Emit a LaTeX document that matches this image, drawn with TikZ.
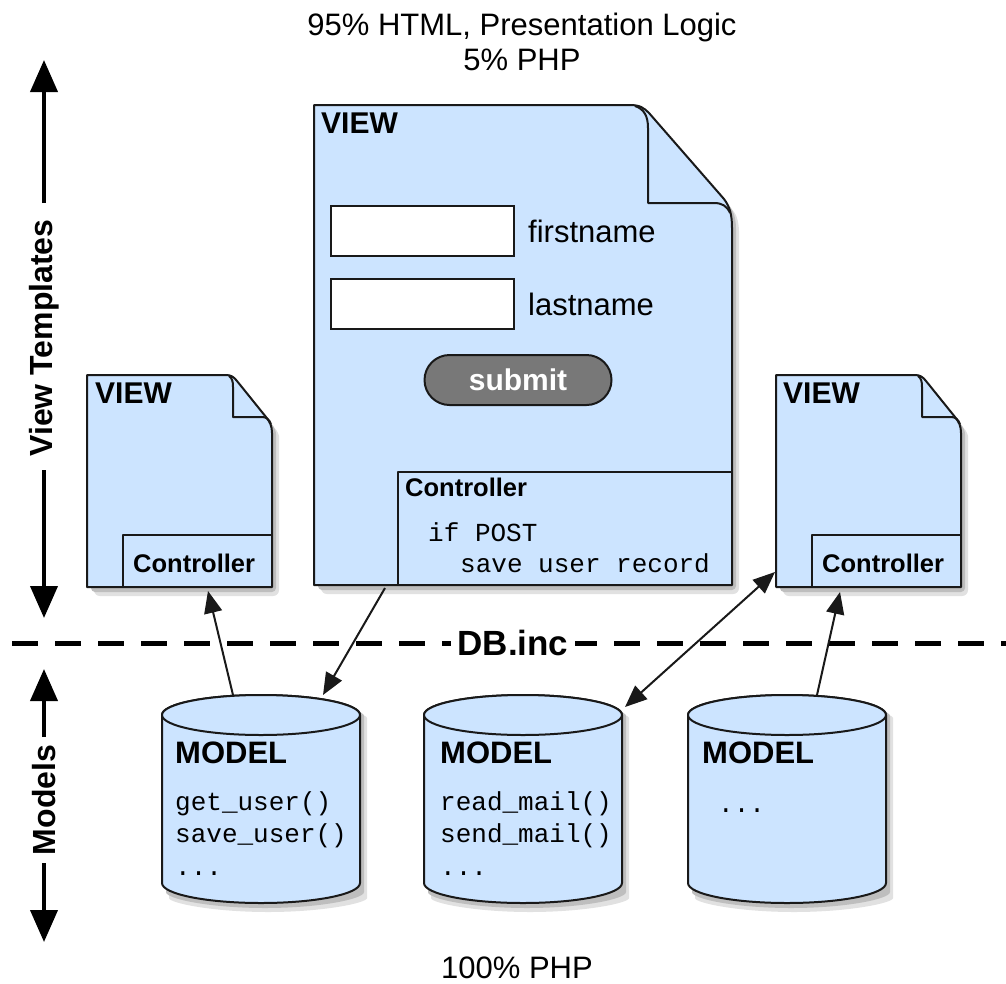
\documentclass[tikz,border=0pt]{standalone}
\usepackage{fontspec}
\setmainfont{Liberation Sans}
\newfontfamily\codefont{Liberation Mono}
\usetikzlibrary{arrows.meta}
\definecolor{pageblue}{RGB}{204,228,255}
\definecolor{btngray}{RGB}{120,120,120}
\definecolor{edgecol}{RGB}{25,25,25}
\definecolor{shadowA}{RGB}{225,225,225}
\definecolor{shadowB}{RGB}{190,190,190}
\tikzset{
  pagebody/.style={fill=pageblue,draw=edgecol,line width=2pt,line join=round},
  pageline/.style={draw=edgecol,line width=2pt,line join=round},
  lbl/.style={font=\fontsize{31}{37}\selectfont,inner sep=0pt},
  viewlbl/.style={font=\fontsize{30}{34}\selectfont\bfseries,inner sep=0pt,anchor=base west},
  ctrllbl/.style={font=\fontsize{25.5}{30}\selectfont\bfseries,inner sep=0pt,anchor=base west},
  modellbl/.style={font=\fontsize{31}{36}\selectfont\bfseries,inner sep=0pt,anchor=base west},
  codelbl/.style={font=\fontsize{26}{31}\selectfont\codefont,inner sep=0pt,anchor=base west},
  field/.style={draw=edgecol,fill=white,line width=2pt,minimum width=183pt,minimum height=50pt,anchor=north west,inner sep=0pt},
  btn/.style={draw=edgecol,fill=btngray,line width=2pt,minimum width=187pt,minimum height=50pt,rounded corners=25pt,text=white,font=\fontsize{30}{36}\selectfont\bfseries,inner sep=0pt},
  axislbl/.style={font=\fontsize{32}{38}\selectfont\bfseries,inner sep=0pt,rotate=90},
  axisarrow/.style={line width=4pt,-{Triangle[length=32pt,width=27pt]}},
  conn/.style={line width=2pt,draw=edgecol,-{Triangle[length=22pt,width=18pt]}},
  conn2/.style={line width=2pt,draw=edgecol,{Triangle[length=22pt,width=18pt]}-{Triangle[length=22pt,width=18pt]}},
  dbline/.style={line width=5pt,dash pattern=on 26pt off 17pt},
  dblabel/.style={font=\fontsize{35}{40}\selectfont\bfseries,fill=white,inner xsep=7pt,inner ysep=2pt}
}
% shape outlines
\newcommand\cylPath{(0,715) -- (0,883) arc[start angle=180,end angle=0,x radius=99,y radius=20]
     -- (198,715) arc[start angle=0,end angle=-180,x radius=99,y radius=20] -- cycle}
\newcommand\smallPagePath{(87,375) -- (226,375) .. controls (231,375) and (234,377) .. (237,381)
     -- (266,417) .. controls (270,422) and (272,426) .. (272,433) -- (272,587) -- (87,587) -- cycle}
\newcommand\bigPagePath{(314,105) -- (630,105) .. controls (640,105) and (644,108) .. (649,113)
   -- (724,199) .. controls (730,207) and (732,215) .. (732,228) -- (732,585) -- (314,585) -- cycle}
% soft shadow behind a path
\newcommand\softShadow[1]{%
  \fill[shadowA,rounded corners=6pt] [shift={(7,9)}] #1;
  \fill[shadowB,rounded corners=4pt] [shift={(4,5)}] #1;
}
\newcommand\mvcCyl{%
  \softShadow{\cylPath}
  \path[pagebody] \cylPath;
  \draw[pageline,fill=pageblue] (99,715) ellipse [x radius=99,y radius=20];
}
\newcommand\mvcSmallPage{%
  \softShadow{\smallPagePath}
  \path[pagebody] \smallPagePath;
  \draw[pageline] (229,376) .. controls (232,378) and (233,381) .. (233,387) -- (233,417)
     -- (262,417) .. controls (266,417) and (269,419) .. (271,424);
  \draw[pageline] (123,587) -- (123,535) -- (272,535);
}
\begin{document}
\begin{tikzpicture}[x=1pt,y=-1pt]
\fill[white] (0,0) rectangle (1006,983);
\useasboundingbox (0,0) rectangle (1006,983);

% header / footer
\node[lbl,anchor=base] (hdrA) at (522,35) {95\% HTML, Presentation Logic};
\node[lbl,anchor=base] (hdrB) at (522,70) {5\% PHP};
\node[lbl,anchor=base] (ftr) at (517,978) {100\% PHP};

% dashed DB line
\coordinate (dbL) at (12,643);
\coordinate (dbR) at (1010,643);
\draw[dbline] (dbL) -- (dbR);
\node[dblabel] (db) at (513,643) {DB.inc};

% axis arrows
\coordinate (vtTop) at (44,60);
\coordinate (vtA) at (44,203);
\coordinate (vtB) at (44,470);
\coordinate (vtBot) at (44,618);
\draw[axisarrow] (vtA) -- (vtTop);
\draw[axisarrow] (vtB) -- (vtBot);
\node[axislbl] (vt) at (44,338) {View Templates};
\coordinate (mdTop) at (44,669);
\coordinate (mdA) at (44,737);
\coordinate (mdB) at (44,863);
\coordinate (mdBot) at (44,942);
\draw[axisarrow] (mdA) -- (mdTop);
\draw[axisarrow] (mdB) -- (mdBot);
\node[axislbl] (md) at (44,800) {Models};

% big view page
\softShadow{\bigPagePath}
\path[pagebody] \bigPagePath;
\draw[pageline] (635,106) .. controls (644,109) and (648,116) .. (648,128) -- (648,203)
   -- (714,203) .. controls (722,203) and (727,206) .. (730,213);
\draw[pageline] (398,585) -- (398,472) -- (732,472);
\node[viewlbl] (bigview) at (321,133) {VIEW};
\node[field] (fbox) at (330,205) {};
\node[field] (lbox) at (330,278) {};
\node[lbl,anchor=base west] (fname) at (528,242) {firstname};
\node[lbl,anchor=base west] (lname) at (528,315) {lastname};
\node[btn] (submit) at (518,380) {submit};
\node[ctrllbl] (bigctrl) at (405,496) {Controller};
\node[codelbl] (code1) at (428,541) {if POST};
\node[codelbl] (code2) at (460,572) {save user record};

% small view pages
\mvcSmallPage
\node[viewlbl] (lview) at (95,403) {VIEW};
\node[ctrllbl] (lctrl) at (133,572) {Controller};
\begin{scope}[shift={(689,0)}]
\mvcSmallPage
\end{scope}
\node[viewlbl] (rview) at (783,403) {VIEW};
\node[ctrllbl] (rctrl) at (822,572) {Controller};

% models
\begin{scope}[shift={(162,0)}]\mvcCyl\end{scope}
\begin{scope}[shift={(424,0)}]\mvcCyl\end{scope}
\begin{scope}[shift={(688,0)}]\mvcCyl\end{scope}
\node[modellbl] (m1) at (175,763) {MODEL};
\node[codelbl] (m1a) at (175,810) {get\_user()};
\node[codelbl] (m1b) at (175,842) {save\_user()};
\node[codelbl] (m1c) at (175,875) {...};
\node[modellbl] (m2) at (440,763) {MODEL};
\node[codelbl] (m2a) at (440,810) {read\_mail()};
\node[codelbl] (m2b) at (440,842) {send\_mail()};
\node[codelbl] (m2c) at (440,875) {...};
\node[modellbl] (m3) at (702,763) {MODEL};
\node[codelbl] (m3a) at (718,812) {...};

% connectors
\coordinate (cyl1top) at (233,695);
\coordinate (lctrlbot) at (208,591);
\coordinate (bigbot) at (385,588);
\coordinate (cyl1topR) at (323,695);
\coordinate (cyl2top) at (625,707);
\coordinate (rviewside) at (775,572);
\coordinate (cyl3top) at (817,695);
\coordinate (rctrlbot) at (840,592);
\draw[conn] (cyl1top) -- (lctrlbot);
\draw[conn] (bigbot) -- (cyl1topR);
\draw[conn2] (cyl2top) -- (rviewside);
\draw[conn] (cyl3top) -- (rctrlbot);
\end{tikzpicture}
\end{document}
